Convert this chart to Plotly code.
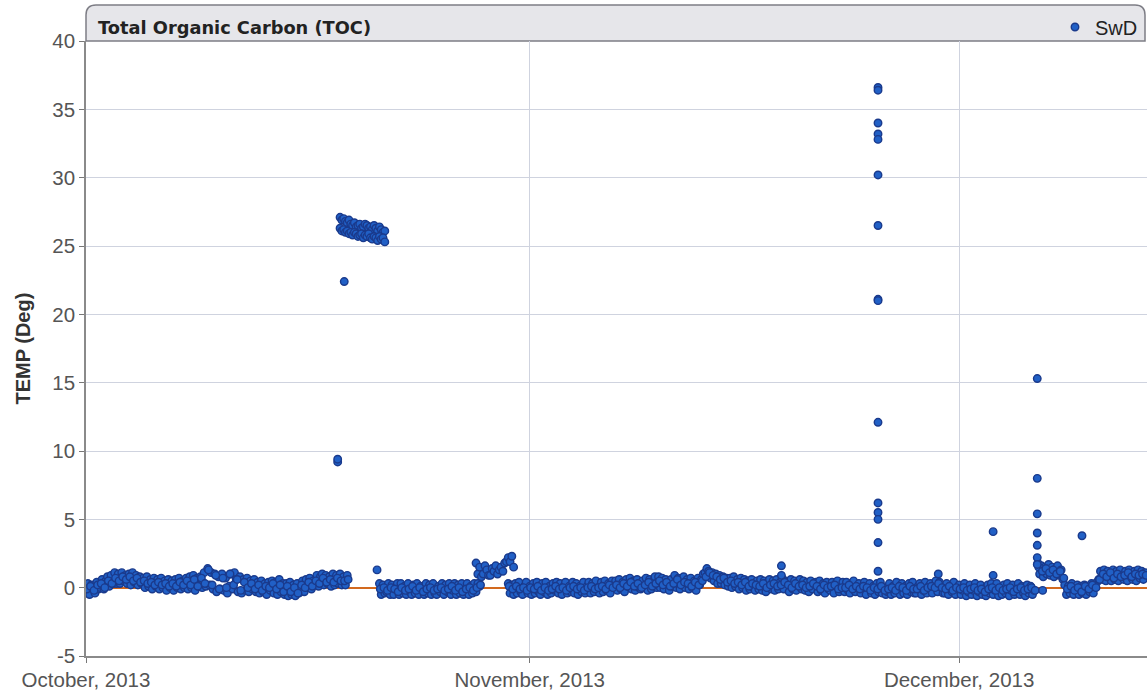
import pandas as pd
import plotly.graph_objects as go

# ---------------- data ----------------
# Baseline segment A: from 2013-10-01 00:00, every 3 hours (upper/lower swings)
seg_a_start = "2013-10-01 00:00"
seg_a_vals = [
    -0.4, 0.3, -0.5, 0.2, 0.0, -0.4, 0.4, -0.1,
    0.0, 0.6, -0.1, 0.5, 0.8, 0.1, 0.9, 0.3,
    1.1, 0.3, 1.0, 0.3, 1.1, 0.5, 0.9, 0.3,
    1.0, 0.2, 1.1, 0.4, 0.9, 0.2, 0.8, 0.3,
    0.7, 0.0, 0.8, 0.1, 0.6, -0.1, 0.7, 0.1,
    0.6, -0.1, 0.7, 0.0, 0.5, -0.2, 0.6, 0.0,
    0.5, -0.2, 0.6, 0.0, 0.7, -0.1, 0.5, 0.0,
    0.7, -0.1, 0.8, 0.0, 0.9, -0.2, 0.7, 0.1,
    0.8, 0.0, 1.1, 0.1, 1.4, 0.2, 1.1, -0.1,
    1.0, -0.3, 0.8, -0.1, 1.0, -0.2, 0.7, -0.4,
    0.1, 1.0, -0.1, 1.1, 0.6, -0.3, 0.8, -0.4,
    0.6, -0.2, 0.7, -0.3, 0.5, -0.1, 0.6, -0.3,
    0.4, -0.4, 0.5, -0.3, 0.3, -0.5, 0.4, -0.2,
    0.5, -0.4, 0.4, -0.5, 0.6, -0.3, 0.3, -0.5,
    0.3, -0.6, 0.4, -0.5, 0.2, -0.6, 0.3, -0.4,
    -0.2, 0.5, -0.3, 0.6, 0.0, 0.7, -0.1, 0.5,
    0.2, 0.9, 0.1, 0.8, 1.0, 0.2, 0.9, 0.3,
    0.8, 0.1, 1.0, 0.2, 0.9, 0.3, 1.0, 0.2,
    0.8, 0.2, 0.9,
]
# Segment A mid readings: from 2013-10-01 01:30, every 6 hours
seg_a_mid_start = "2013-10-01 01:30"
seg_a_mid = [
    -0.1, 0.1, -0.2, 0.2,
    0.3, 0.0, 0.5, 0.3,
    0.7, 0.5, 0.8, 0.6,
    0.8, 0.5, 0.7, 0.4,
    0.5, 0.3, 0.4, 0.2,
    0.4, 0.2, 0.3, 0.1,
    0.3, 0.1, 0.4, 0.2,
    0.5, 0.2, 0.6, 0.1,
    0.7, 0.3, 1.3, 0.2,
    0.9, -0.1, 0.7, 0.0,
    1.0, 0.2, 0.6, -0.2,
    0.4, 0.0, 0.3, -0.1,
    0.2, -0.2, 0.1, 0.0,
    0.3, -0.1, 0.2, -0.3,
    0.1, -0.3, 0.0, -0.4,
    0.2, 0.0, 0.4, 0.1,
    0.5, 0.3, 0.7, 0.4,
    0.6, 0.4, 0.7, 0.5,
    0.5, 0.6,
]

# High cluster (Oct 18-21), every 3 hours, upper and lower readings
cluster_start = "2013-10-18 18:00"
cluster_hi = [27.1, 26.9, 27.0, 26.8, 26.7, 26.9, 26.6, 26.5, 26.7, 26.4,
              26.5, 26.6, 26.3, 26.4, 26.6, 26.5, 26.3, 26.4, 26.2, 26.5,
              26.3, 26.1, 26.4, 26.2, 26.0, 26.1]
cluster_lo = [26.3, 26.1, 26.2, 26.0, 26.1, 25.9, 26.0, 25.8, 26.0, 25.9,
              25.7, 25.8, 25.9, 25.6, 25.8, 25.7, 25.9, 25.6, 25.5, 25.7,
              25.6, 25.4, 25.7, 25.5, 25.6, 25.3]

# Baseline segment B: from 2013-10-21 12:00, every 3 hours
seg_b_start = "2013-10-21 12:00"
seg_b_vals = [
    0.3, -0.5, 0.2, -0.4,
    -0.3, 0.3, -0.5, 0.2, -0.5, -0.1, 0.3, -0.5,
    0.3, -0.4, 0.1, -0.5, 0.3, -0.3, -0.5, 0.2,
    -0.4, 0.3, -0.5, 0.1, -0.2, -0.5, 0.3, -0.4,
    0.2, -0.5, 0.3, -0.4, -0.5, 0.1, -0.3, 0.3,
    -0.5, 0.2, -0.3, 0.3, -0.5, -0.2, 0.3, -0.5,
    0.2, -0.4, 0.3, -0.5, -0.2, 0.3, -0.5, 0.1,
    -0.4, 0.3, -0.3, 0.3, 0.1,
]
seg_b_mid_start = "2013-10-21 13:30"
seg_b_mid = [
    -0.1, 0.0,
    -0.2, 0.0, -0.1, -0.3,
    0.0, -0.2, -0.1, 0.1,
    -0.2, 0.0, -0.3, -0.1,
    0.0, -0.2, -0.1, 0.0,
    -0.2, -0.1, 0.1, -0.2,
    0.0, -0.3, -0.1, 0.0,
    -0.2, 0.0, 0.2,
]

# Elevated segment (Oct 28-30), every 3 hours
seg_e_start = "2013-10-28 06:00"
seg_e_vals = [1.8, 1.0, 1.5, 0.8, 1.0, 1.6, 1.3, 0.9, 0.9, 1.4, 1.2, 1.6,
              1.0, 1.3, 1.5, 1.2, 1.8, 1.9, 2.2, 1.9, 2.3, 1.5]

# Baseline segment C: from 2013-10-30 12:00, every 3 hours
seg_c_start = "2013-10-30 12:00"
seg_c_vals = [
    0.3, -0.4, 0.2, -0.5,
    0.3, -0.4, 0.4, -0.3, -0.5, 0.1, 0.4, -0.4,
    0.1, -0.5, 0.3, -0.4, 0.4, -0.3, -0.5, 0.3,
    -0.3, 0.4, -0.5, 0.1, -0.4, 0.3, -0.2, 0.4,
    -0.4, 0.3, -0.5, 0.1, 0.4, -0.4, 0.1, -0.3,
    0.4, -0.4, 0.3, -0.5, 0.1, -0.3, 0.4, -0.4,
    0.1, 0.4, -0.4, 0.3, -0.3, 0.5, 0.0, -0.4,
    0.4, -0.3, 0.5, -0.2, 0.3, -0.4, 0.5, 0.0,
    0.5, -0.2, 0.6, -0.1, 0.4, -0.3, 0.6, 0.1,
    0.7, -0.1, 0.5, -0.2, 0.6, 0.0, -0.1, 0.5,
    0.0, 0.7, -0.2, 0.6, -0.1, 0.5, 0.8, 0.0,
    0.8, 0.0, 0.7, -0.1, 0.6, 0.2, -0.2, 0.6,
    0.1, 0.9, 0.0, 0.7, -0.1, 0.6, 0.8, 0.0,
    0.6, -0.1, 0.7, 0.0, 0.5, -0.2, 0.7, 0.2,
    0.6, 1.0, 1.1, 1.4, 1.2, 0.7, 1.1, 0.5,
    1.0, 0.3, 0.9, 0.3, 0.8, 0.2, 0.7, 0.1,
    0.7, 0.0, 0.8, 0.1, 0.6, -0.1, 0.7, 0.0,
    0.6, -0.2, 0.5, -0.1, 0.6, 0.0, -0.2, 0.5,
    -0.1, 0.6, -0.2, 0.5, -0.3, 0.4, 0.6, -0.1,
    0.5, -0.2, 0.6, -0.1, 0.4, 0.7, -0.1, 0.5,
    0.4, -0.3, 0.6, -0.1, 0.5, -0.2, 0.4, 0.6,
    -0.1, 0.5, -0.2, 0.4, -0.3, 0.5, -0.1, 0.3,
    0.4, -0.3, 0.5, -0.2, 0.3, -0.4, 0.4, -0.1,
    -0.2, 0.4, -0.4, 0.3, 0.5, -0.3, -0.1, 0.4,
    -0.3, 0.4, -0.2, -0.4, 0.3, 0.5, -0.3, 0.1,
    0.3, -0.4, 0.1, 0.4, -0.5, 0.0, 0.3, -0.4,
    0.1, -0.5, 0.3, -0.3, 0.4, -0.4, 0.0, -0.5,
    -0.3, 0.3, -0.5, 0.1, -0.4, 0.4, -0.2, -0.5,
    0.3, -0.4, 0.1, -0.5, 0.3, -0.3, 0.4, -0.4,
    -0.4, 0.1, 0.3, -0.5, -0.2, 0.4, -0.4, 0.1,
    0.3, -0.4, 0.1, 0.5, -0.3, 0.4, 0.0, -0.4,
    -0.4, 0.3, -0.5, 0.1, -0.3, 0.4, -0.5, -0.1,
    0.2, -0.5, -0.2, 0.3, -0.6, -0.3, 0.2, -0.5,
    -0.2, 0.3, -0.6, -0.3, 0.2, -0.5, -0.1, -0.6,
    0.2, -0.4, 0.3, -0.5, -0.2, 0.3, -0.6, -0.1,
    -0.5, 0.2, -0.4, 0.3, -0.6, -0.2, 0.2, -0.5,
    -0.2, 0.3, -0.5, 0.1, -0.4, -0.6, 0.2, -0.4,
    0.1, -0.5, -0.2,
]
seg_c_mid_start = "2013-10-30 13:30"
seg_c_mid = [
    0.1, -0.1,
    0.1, -0.1, 0.0, -0.2,
    0.0, -0.1, 0.1, -0.2,
    0.0, -0.2, -0.1, 0.1,
    -0.1, 0.0, -0.2, 0.0,
    0.1, -0.1, 0.0, -0.2,
    0.0, 0.1, -0.1, 0.0,
    0.1, -0.1, 0.2, 0.0,
    0.2, 0.0, 0.3, 0.1,
    0.4, 0.1, 0.3, 0.0,
    0.2, 0.4, 0.1, 0.3,
    0.5, 0.2, 0.4, 0.1,
    0.3, 0.6, 0.2, 0.4,
    0.3, 0.1, 0.4, 0.2,
    0.5, 0.8, 1.1, 0.9,
    0.8, 0.6, 0.7, 0.4,
    0.5, 0.3, 0.4, 0.2,
    0.4, 0.1, 0.3, 0.2,
    0.1, 0.3, 0.0, 0.2,
    0.3, 0.1, 0.2, 0.4,
    0.2, 0.0, 0.3, 0.1,
    0.2, 0.0, 0.1, 0.3,
    0.1, -0.1, 0.2, 0.0,
    0.1, 0.2, -0.1, 0.0,
    0.0, 0.2, -0.1, 0.1,
    -0.1, 0.1, 0.0, -0.2,
    0.0, -0.1, 0.1, -0.2,
    -0.1, 0.0, -0.2, 0.1,
    0.0, -0.2, 0.1, -0.1,
    -0.1, 0.1, -0.2, 0.0,
    0.1, 0.0, 0.3, 0.0,
    -0.1, 0.1, -0.2, 0.0,
    -0.1, 0.0, -0.2, -0.1,
    0.0, -0.2, -0.1, -0.3,
    -0.1, 0.0, -0.2, 0.0,
    -0.2, -0.1, 0.0, -0.3,
    -0.1, 0.0, -0.2, -0.1,
    0.0, -0.2,
]

# Baseline segment D: from 2013-12-06 12:00, every 3 hours
seg_d_start = "2013-12-06 12:00"
seg_d_vals = [
    1.8, 1.0, 1.6, 0.8, 1.5, 1.0, 1.7, 0.9, 1.5, 0.8, 1.4, 1.6, 0.9, 1.3, 0.6,
    0.2, -0.5, 0.1, -0.4, 0.3, -0.5, -0.2, 0.2, -0.5, 0.1, -0.4, 0.2, -0.5,
    0.1, -0.3, 0.3, -0.4, 0.1, 0.4,
    0.6, 1.2, 0.6, 1.3, 0.5, 1.2, 0.8, 0.5, 1.3, 0.6, 1.2, 0.5, 1.3, 0.8,
    0.6, 1.2, 0.5, 1.3, 0.8, 0.6, 1.2, 0.5, 1.3, 0.7, 1.2, 0.6, 1.1,
]
seg_d_mid_start = "2013-12-06 13:30"
seg_d_mid = [
    1.5, 1.2, 1.4, 1.1, 1.3, 1.0, 1.2, 0.7,
    -0.1, 0.1, -0.2, 0.0, -0.3, 0.1, -0.1, 0.2, 0.0,
    0.6,
    1.0, 0.8, 1.1, 0.7, 1.0, 0.8, 0.9, 1.1, 0.8, 1.0, 0.9, 1.0, 0.9,
]

# Isolated readings and spikes
out_times = [
    "2013-10-18 14:00", "2013-10-18 14:00", "2013-10-19 01:00",
    "2013-10-21 08:00",
    "2013-11-18 14:00", "2013-11-18 14:00",
    "2013-11-25 08:00", "2013-11-25 08:00", "2013-11-25 08:00",
    "2013-11-25 08:00", "2013-11-25 08:00", "2013-11-25 08:00",
    "2013-11-25 08:00", "2013-11-25 08:00", "2013-11-25 08:00",
    "2013-11-25 08:00", "2013-11-25 08:00", "2013-11-25 08:00",
    "2013-11-25 08:00", "2013-11-25 08:00", "2013-11-25 08:00",
    "2013-11-29 13:00",
    "2013-12-03 09:00", "2013-12-03 09:00",
    "2013-12-06 11:00", "2013-12-06 11:00", "2013-12-06 11:00",
    "2013-12-06 11:00", "2013-12-06 11:00", "2013-12-06 11:00",
    "2013-12-06 11:00",
    "2013-12-06 20:00",
    "2013-12-09 14:00",
]
out_vals = [
    9.2, 9.4, 22.4,
    1.3,
    1.6, 0.9,
    36.6, 36.4, 34.0,
    33.2, 32.8, 30.2,
    26.5, 21.1, 21.0,
    12.1, 6.2, 5.5,
    5.0, 3.3, 1.2,
    1.0,
    4.1, 0.9,
    15.3, 8.0, 5.4,
    4.0, 3.1, 2.2,
    1.7,
    -0.2,
    3.8,
]

series_name = "SwD"
chart_title = "Total Organic Carbon (TOC)"
y_title = "TEMP (Deg)"
y_range = [-5, 40]
y_ticks = [-5, 0, 5, 10, 15, 20, 25, 30, 35, 40]
x_range = ["2013-10-01 00:00", "2013-12-14 03:00"]

# ---------------- assemble ----------------
def seg(start, vals, freq):
    return list(pd.date_range(start, periods=len(vals), freq=freq)), list(vals)

xs, ys = [], []
for start, vals, freq in [
    (seg_a_start, seg_a_vals, "3h"),
    (seg_a_mid_start, seg_a_mid, "6h"),
    (seg_b_start, seg_b_vals, "3h"),
    (seg_b_mid_start, seg_b_mid, "6h"),
    (seg_c_start, seg_c_vals, "3h"),
    (seg_c_mid_start, seg_c_mid, "6h"),
    (seg_d_start, seg_d_vals, "3h"),
    (seg_d_mid_start, seg_d_mid, "6h"),
    (seg_e_start, seg_e_vals, "3h"),
    (cluster_start, cluster_hi, "3h"),
    (cluster_start, cluster_lo, "3h"),
]:
    t, v = seg(start, vals, freq)
    xs += t
    ys += v
xs += list(pd.to_datetime(out_times))
ys += out_vals

fig = go.Figure()
fig.add_trace(go.Scatter(
    x=xs, y=ys, mode="markers", name=series_name,
    marker=dict(size=7.5, color="#2160c6", line=dict(color="#1a3a8c", width=1.4)),
))

W, H = 1147, 691
ml, mr, mt, mb = 86, 0, 41, 35
pw, ph = W - ml - mr, H - mt - mb

def px2paper_x(px):
    return (px - ml) / pw

def px2paper_y(py):
    return (H - mb - py) / ph

# header bar with rounded top corners
x0, x1 = px2paper_x(86), px2paper_x(1145)
y0, y1 = 1.0, px2paper_y(5)
rx, ry = 10 / pw, 10 / ph
path = (f"M {x0},{y0} L {x0},{y1-ry} Q {x0},{y1} {x0+rx},{y1} "
        f"L {x1-rx},{y1} Q {x1},{y1} {x1},{y1-ry} L {x1},{y0} Z")

fig.update_layout(
    width=W, height=H,
    margin=dict(l=ml, r=mr, t=mt, b=mb, autoexpand=False),
    paper_bgcolor="white", plot_bgcolor="white",
    showlegend=True,
    legend=dict(x=px2paper_x(1143), xanchor="right", y=px2paper_y(27), yanchor="middle",
                bgcolor="rgba(0,0,0,0)", font=dict(family="Liberation Sans", size=20, color="#222")),
    shapes=[dict(type="path", path=path, xref="paper", yref="paper",
                 fillcolor="#e6e6ea", line=dict(color="#7d7d85", width=1.5), layer="below")],
    annotations=[
        dict(text=f"<b>{chart_title}</b>", xref="paper", yref="paper",
             x=px2paper_x(96), y=px2paper_y(27), xanchor="left", yanchor="middle",
             showarrow=False, font=dict(family="DejaVu Sans", size=17.8, color="#222")),
        dict(text=f"<b>{y_title}</b>", xref="paper", yref="paper",
             x=px2paper_x(22), y=0.5, xanchor="center", yanchor="middle", textangle=-90,
             showarrow=False, font=dict(family="Liberation Sans", size=20, color="#333")),
    ],
)
fig.update_xaxes(
    type="date", range=x_range, dtick="M1", tick0="2013-10-01",
    tickformat="%B, %Y", ticks="outside", ticklen=5, tickcolor="#777",
    showgrid=True, gridcolor="#cfd3df", gridwidth=1,
    showline=True, linecolor="#8a8a8a", linewidth=1.5, zeroline=False,
    tickfont=dict(family="Liberation Sans", size=20.5, color="#555"),
)
fig.update_yaxes(
    range=y_range, tickmode="array", tickvals=y_ticks, ticktext=[str(v) for v in y_ticks],
    ticks="outside", ticklen=5, tickcolor="#777",
    showgrid=True, gridcolor="#cfd3df", gridwidth=1,
    showline=True, linecolor="#8a8a8a", linewidth=1.5,
    zeroline=True, zerolinecolor="#d2691e", zerolinewidth=1.5,
    tickfont=dict(family="Liberation Sans", size=20.5, color="#555"),
)

fig.write_html("out.html", config={"displayModeBar": False},
               post_script="document.body.style.margin='0px';")
